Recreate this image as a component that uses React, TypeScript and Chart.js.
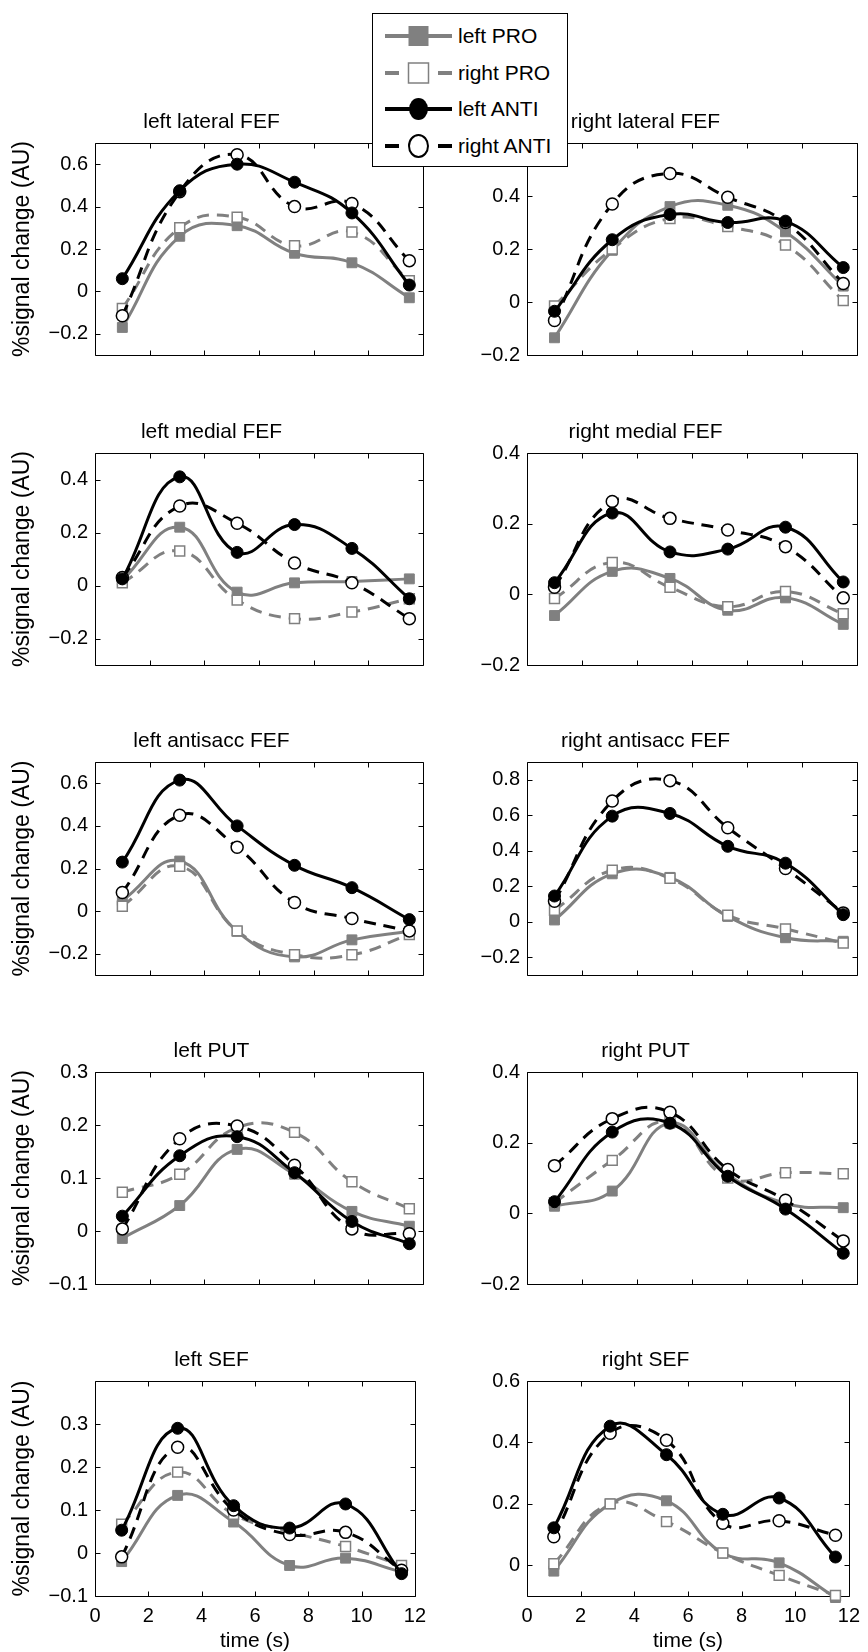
import React, { useEffect, useRef } from 'react';
import { Chart, registerables } from 'chart.js';

Chart.register(...registerables);

const FONT = "'Liberation Sans', Arial, Helvetica, sans-serif";
const GRAY = '#808080';

// ---------- data ----------
const timePoints = [1.0, 3.1, 5.2, 7.3, 9.4, 11.5];
const xTickValues = [0, 2, 4, 6, 8, 10, 12];

const panelTitles = [
  'left lateral FEF', 'right lateral FEF',
  'left medial FEF', 'right medial FEF',
  'left antisacc FEF', 'right antisacc FEF',
  'left PUT', 'right PUT',
  'left SEF', 'right SEF',
];

const yMinValues = [-0.3, -0.2, -0.3, -0.2, -0.3, -0.3, -0.1, -0.2, -0.1, -0.1];
const yMaxValues = [0.7, 0.6, 0.5, 0.4, 0.7, 0.9, 0.3, 0.4, 0.4, 0.6];

const yTickValues = [
  [-0.2, 0, 0.2, 0.4, 0.6],
  [-0.2, 0, 0.2, 0.4, 0.6],
  [-0.2, 0, 0.2, 0.4],
  [-0.2, 0, 0.2, 0.4],
  [-0.2, 0, 0.2, 0.4, 0.6],
  [-0.2, 0, 0.2, 0.4, 0.6, 0.8],
  [-0.1, 0, 0.1, 0.2, 0.3],
  [-0.2, 0, 0.2, 0.4],
  [-0.1, 0, 0.1, 0.2, 0.3],
  [0, 0.2, 0.4, 0.6],
];

const seriesNames = ['left PRO', 'right PRO', 'left ANTI', 'right ANTI'];

const leftPRO = [
  [-0.17, 0.26, 0.31, 0.18, 0.135, -0.03],
  [-0.135, 0.195, 0.36, 0.365, 0.265, 0.06],
  [0.02, 0.22, -0.025, 0.01, 0.015, 0.025],
  [-0.06, 0.065, 0.045, -0.045, -0.01, -0.085],
  [0.05, 0.235, -0.095, -0.215, -0.135, -0.095],
  [0.01, 0.27, 0.25, 0.03, -0.09, -0.11],
  [-0.014, 0.048, 0.154, 0.107, 0.037, 0.009],
  [0.02, 0.063, 0.255, 0.11, 0.028, 0.016],
  [-0.02, 0.134, 0.072, -0.029, -0.012, -0.044],
  [-0.019, 0.2, 0.21, 0.04, 0.008, -0.105],
];

const rightPRO = [
  [-0.08, 0.3, 0.35, 0.215, 0.28, 0.05],
  [-0.015, 0.2, 0.315, 0.285, 0.215, 0.005],
  [0.01, 0.13, -0.055, -0.125, -0.1, -0.05],
  [-0.012, 0.09, 0.02, -0.035, 0.008, -0.055],
  [0.023, 0.21, -0.093, -0.205, -0.205, -0.11],
  [0.065, 0.29, 0.245, 0.037, -0.04, -0.12],
  [0.073, 0.107, 0.195, 0.186, 0.093, 0.042],
  [0.03, 0.15, 0.26, 0.1, 0.115, 0.112],
  [0.067, 0.188, 0.09, 0.05, 0.015, -0.029],
  [0.005, 0.2, 0.142, 0.04, -0.033, -0.098],
];

const leftANTI = [
  [0.06, 0.475, 0.6, 0.515, 0.37, 0.03],
  [-0.035, 0.235, 0.33, 0.3, 0.305, 0.13],
  [0.025, 0.41, 0.125, 0.23, 0.14, -0.05],
  [0.033, 0.23, 0.12, 0.128, 0.19, 0.035],
  [0.23, 0.615, 0.4, 0.215, 0.11, -0.04],
  [0.145, 0.595, 0.61, 0.425, 0.33, 0.04],
  [0.028, 0.142, 0.178, 0.11, 0.018, -0.024],
  [0.033, 0.23, 0.255, 0.105, 0.012, -0.113],
  [0.053, 0.29, 0.11, 0.058, 0.114, -0.048],
  [0.122, 0.453, 0.36, 0.166, 0.219, 0.027],
];

const rightANTI = [
  [-0.115, 0.47, 0.645, 0.4, 0.415, 0.145],
  [-0.07, 0.37, 0.485, 0.395, 0.3, 0.07],
  [0.03, 0.3, 0.235, 0.085, 0.01, -0.125],
  [0.02, 0.263, 0.215, 0.182, 0.135, -0.01],
  [0.087, 0.45, 0.3, 0.04, -0.035, -0.093],
  [0.115, 0.68, 0.795, 0.53, 0.3, 0.05],
  [0.004, 0.174, 0.198, 0.124, 0.004, -0.005],
  [0.135, 0.268, 0.286, 0.124, 0.037, -0.078],
  [-0.009, 0.246, 0.1, 0.043, 0.048, -0.04],
  [0.093, 0.43, 0.407, 0.137, 0.145, 0.098],
];

const seriesValues = [leftPRO, rightPRO, leftANTI, rightANTI];

// ---------- styles / layout ----------
const seriesStyles = [
  { color: GRAY, dash: [] as number[], pointStyle: 'rect', filled: true, radius: 7, order: 4 },
  { color: GRAY, dash: [12, 8], pointStyle: 'rect', filled: false, radius: 7, order: 3 },
  { color: '#000', dash: [] as number[], pointStyle: 'circle', filled: true, radius: 6, order: 1 },
  { color: '#000', dash: [12, 8], pointStyle: 'circle', filled: false, radius: 6, order: 2 },
];

const plotTops = [143, 453, 762, 1072, 1381];
const plotBottoms = [358, 668, 978, 1287, 1596];
const colCanvasLeft = [0, 434];
const colPlotLeft = [95, 527];
const colPlotRight = [423, 857];
const CANVAS_W = 434;
const TITLE_BOX = 33;
const PAGE_H = 1652;

const fmtY = (v: number) => {
  if (Math.abs(v) < 1e-9) return '0';
  const s = Math.abs(v).toFixed(1);
  return v < 0 ? '\u2212' + s : s;
};

const frameTicks = {
  id: 'frameTicks',
  beforeDatasetsDraw(chart: any) {
    const { ctx, chartArea: a } = chart;
    const xs = chart.scales.x;
    const ys = chart.scales.y;
    const L = Math.round(a.left) + 0.5;
    const R = Math.round(a.right) + 0.5;
    const T = Math.round(a.top) + 0.5;
    const B = Math.round(a.bottom) + 0.5;
    const len = 5;
    ctx.save();
    ctx.strokeStyle = '#000';
    ctx.lineWidth = 1;
    ctx.beginPath();
    ctx.rect(L, T, R - L, B - T);
    xs.ticks.forEach((t: any) => {
      const px = Math.round(xs.getPixelForValue(t.value)) + 0.5;
      ctx.moveTo(px, B); ctx.lineTo(px, B - len);
      ctx.moveTo(px, T); ctx.lineTo(px, T + len);
    });
    ys.ticks.forEach((t: any) => {
      const py = Math.round(ys.getPixelForValue(t.value)) + 0.5;
      ctx.moveTo(L, py); ctx.lineTo(L + len, py);
      ctx.moveTo(R, py); ctx.lineTo(R - len, py);
    });
    ctx.stroke();
    ctx.restore();
  },
};

function Panel({ index }: { index: number }) {
  const ref = useRef<HTMLCanvasElement>(null);
  const row = Math.floor(index / 2);
  const col = index % 2;
  const isBottom = row === 4;
  const canvasLeft = colCanvasLeft[col];
  const plotTop = plotTops[row];
  const plotBottom = plotBottoms[row];
  const canvasTop = plotTop - TITLE_BOX;
  const xAxisH = isBottom ? PAGE_H - plotBottom : 16;
  const canvasH = TITLE_BOX + (plotBottom - plotTop) + xAxisH;
  const yAxisW = colPlotLeft[col] - canvasLeft;
  const padRight = canvasLeft + CANVAS_W - colPlotRight[col];

  useEffect(() => {
    if (!ref.current) return;
    const datasets = seriesNames.map((name, s) => {
      const st = seriesStyles[s];
      const vals = seriesValues[s][index];
      return {
        label: name,
        data: timePoints.map((t, i) => ({ x: t, y: vals[i] })),
        borderColor: st.color,
        borderWidth: 3,
        borderDash: st.dash,
        tension: 0.45,
        fill: false,
        order: st.order,
        clip: 8,
        pointStyle: st.pointStyle,
        pointRadius: st.radius,
        pointBorderWidth: st.filled ? 1 : 1.5,
        pointBorderColor: st.color,
        pointBackgroundColor: st.filled ? st.color : '#ffffff',
      };
    });
    const chart = new Chart(ref.current, {
      type: 'line',
      data: { datasets } as any,
      plugins: [frameTicks],
      options: {
        animation: false,
        responsive: false,
        maintainAspectRatio: false,
        devicePixelRatio: 1,
        layout: { padding: { left: 0, right: padRight, top: 0, bottom: 0 } },
        plugins: {
          legend: { display: false },
          tooltip: { enabled: false },
          title: {
            display: true,
            text: panelTitles[index],
            color: '#000',
            font: { family: FONT, size: 21, weight: 'normal', lineHeight: 1.2 },
            padding: { top: 0, bottom: 7.8 },
          },
        },
        scales: {
          x: {
            type: 'linear',
            min: 0,
            max: 12,
            afterBuildTicks: (s: any) => { s.ticks = xTickValues.map((v) => ({ value: v })); },
            afterFit: (s: any) => { s.height = xAxisH; },
            grid: { display: false, drawTicks: false },
            border: { display: false },
            ticks: {
              display: isBottom,
              autoSkip: false,
              maxRotation: 0,
              padding: 8,
              color: '#000',
              font: { family: FONT, size: 20 },
              callback: (v: any) => String(v),
            },
            title: {
              display: isBottom,
              text: 'time (s)',
              color: '#000',
              font: { family: FONT, size: 21, lineHeight: 1.0 },
              padding: { top: 0, bottom: 0 },
            },
          },
          y: {
            type: 'linear',
            min: yMinValues[index],
            max: yMaxValues[index],
            afterBuildTicks: (s: any) => { s.ticks = yTickValues[index].map((v) => ({ value: v })); },
            afterFit: (s: any) => { s.width = yAxisW; },
            grid: { display: false, drawTicks: false },
            border: { display: false },
            ticks: {
              autoSkip: false,
              padding: 7,
              color: '#000',
              font: { family: FONT, size: 20 },
              callback: (v: any) => fmtY(Number(v)),
            },
            title: {
              display: col === 0,
              text: '%signal change (AU)',
              color: '#000',
              font: { family: FONT, size: 23, lineHeight: 1.2 },
              padding: { top: 9.2, bottom: 0 },
            },
          },
        },
      } as any,
    });
    return () => chart.destroy();
  }, [index]);

  return (
    <canvas
      ref={ref}
      width={CANVAS_W}
      height={canvasH}
      style={{ position: 'absolute', left: canvasLeft, top: canvasTop, width: CANVAS_W, height: canvasH }}
    />
  );
}

function LegendSymbol({ s }: { s: number }) {
  const st = seriesStyles[s];
  const cy = 12;
  const line = st.dash.length
    ? (
      <g stroke={st.color} strokeWidth={4}>
        <line x1={0} y1={cy} x2={14} y2={cy} />
        <line x1={53} y1={cy} x2={67} y2={cy} />
      </g>
    )
    : <line x1={0} y1={cy} x2={67} y2={cy} stroke={st.color} strokeWidth={4} />;
  const marker = st.pointStyle === 'rect'
    ? <rect x={23.5} y={cy - 10} width={20} height={20} fill={st.filled ? st.color : '#fff'} stroke={st.color} strokeWidth={st.filled ? 0 : 1.5} />
    : <ellipse cx={33.5} cy={cy} rx={9.5} ry={11} fill={st.filled ? st.color : '#fff'} stroke={st.color} strokeWidth={st.filled ? 0 : 2} />;
  return (
    <svg width={67} height={24} style={{ position: 'absolute', left: 12, top: 0 }}>
      {line}
      {marker}
    </svg>
  );
}

const legendRowCenters = [35, 72, 108, 145];

function Legend() {
  const boxLeft = 372;
  const boxTop = 13;
  return (
    <div
      style={{
        position: 'absolute', left: boxLeft, top: boxTop, width: 196, height: 154,
        boxSizing: 'border-box', border: '1px solid #000', background: '#fff', zIndex: 5,
        fontFamily: FONT, fontSize: 21, color: '#000',
      }}
    >
      {seriesNames.map((name, s) => (
        <div key={name} style={{ position: 'absolute', left: 0, top: legendRowCenters[s] - boxTop - 12, height: 24, width: 194 }}>
          <LegendSymbol s={s} />
          <span style={{ position: 'absolute', left: 85, top: 0, lineHeight: '24px', whiteSpace: 'nowrap' }}>{name}</span>
        </div>
      ))}
    </div>
  );
}

export default function App() {
  return (
    <div style={{ position: 'absolute', left: 0, top: 0, width: 868, height: PAGE_H, background: '#fff', overflow: 'hidden' }}>
      {panelTitles.map((_, i) => <Panel key={i} index={i} />)}
      <Legend />
    </div>
  );
}
